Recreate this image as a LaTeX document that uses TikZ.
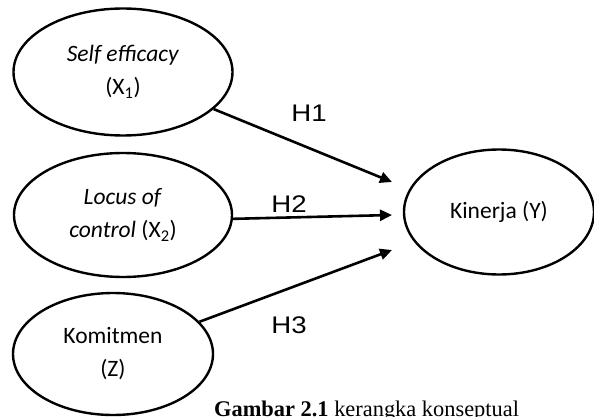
\documentclass[tikz,border=0pt]{standalone}
\usepackage{fontspec}
\setmainfont{Carlito}
\newfontfamily\hfont{Liberation Sans}
\newfontfamily\capfont{Liberation Serif}
\usetikzlibrary{shapes.geometric,arrows.meta}
\newcommand{\hwide}[1]{\scalebox{1.15}[1]{#1}}
\begin{document}
\begin{tikzpicture}[x=1pt,y=-1pt,
  var/.style={ellipse,draw,line width=2.4pt,inner sep=0pt,align=center,
    font=\fontsize{23.5}{33}\selectfont},
  hyp/.style={-{Triangle[length=12pt,width=11pt]},line width=2.6pt},
  hlab/.style={font=\hfont\fontsize{24}{28}\selectfont,anchor=base}]
\useasboundingbox (0,0) rectangle (594,417);
\node[var,minimum width=219pt,minimum height=127pt] (e1) at (123,72)
  {\textit{Self efficacy}\\(X\textsubscript{1})};
\node[var,minimum width=218pt,minimum height=124pt] (e2) at (123,215)
  {\textit{Locus of}\\\textit{control} (X\textsubscript{2})};
\node[var,minimum width=200pt,minimum height=122pt] (e3) at (113,354)
  {Komitmen\\(Z)};
\node[var,minimum width=190pt,minimum height=125pt] (ey) at (499,212)
  {Kinerja (Y)};
\coordinate (t1) at (392,182);
\coordinate (t2) at (392,215);
\coordinate (t3) at (392,250);
\draw[hyp] (e1) -- (t1);
\draw[hyp] (e2.-2) -- (t2);
\draw[hyp] (e3) -- (t3);
\node[hlab] (h1) at (309,122) {\hwide{H1}};
\node[hlab] (h2) at (289,212) {\hwide{H2}};
\node[hlab] (h3) at (289,333) {\hwide{H3}};
\node[anchor=base west,inner sep=0pt,font=\capfont\fontsize{22.4}{24}\selectfont] (cap) at (214,416)
  {\textbf{Gambar 2.1} kerangka konseptual};
\end{tikzpicture}
\end{document}
